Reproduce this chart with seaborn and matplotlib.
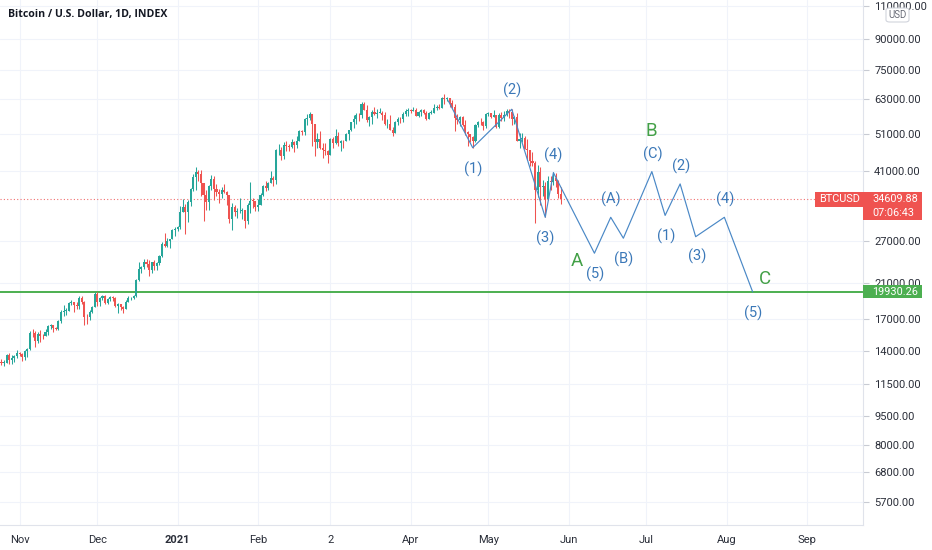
import matplotlib
matplotlib.use("Agg")
import numpy as np
import pandas as pd
import matplotlib.pyplot as plt
import matplotlib.dates as mdates
from matplotlib.patches import Rectangle, FancyBboxPatch
from matplotlib.ticker import NullLocator
import seaborn as sns

# ---------------- data ----------------
title = "Bitcoin / U.S. Dollar, 1D, INDEX"
start_date = "2020-10-24"

opens = [
    12930, 13120, 13040, 13070, 13650, 13280, 13460, 13560,
    13800, 13760, 13550, 14030, 14150, 15590, 15580, 14830, 15480, 15330, 15300, 15700, 16290, 16330, 16070, 15960, 16720, 17660, 17800, 17820, 18680, 18710, 18420, 18370, 19160, 18720, 17150, 17140, 17720, 18180,
    19700, 18790, 19220, 19450, 18700, 19150, 19360, 19170, 18320, 18550, 18250, 18040, 18800, 19170, 19270, 19440, 21370, 22800, 23110, 23870, 23480, 22740, 23820, 23240, 23730, 24710, 26440, 26250, 27040, 27370, 28840,
    28990, 29370, 32130, 33000, 32020, 34000, 36800, 39480, 40670, 40240, 38240, 35540, 34010, 37390, 39150, 36830, 36070, 35820, 36630, 36070, 35550, 30830, 33010, 32100, 32280, 32370, 32570, 30430, 33470, 34320, 34300,
    33110, 33540, 35510, 37470, 36930, 38140, 39270, 38830, 46400, 46480, 44850, 48010, 47510, 47170, 48720, 47940, 49160, 52150, 51680, 55890, 56100, 57530, 54210, 48820, 49700, 47090, 46340, 46190,
    45140, 49630, 48380, 50540, 48560, 48930, 48910, 51210, 52380, 54880, 55860, 57330, 57230, 61190, 59020, 55640, 56470, 58460, 57650, 58030, 58100, 57350, 54100, 54340, 52300, 51300, 55040, 55860, 55780, 57630, 58730,
    58730, 58720, 58960, 57060, 58200, 59130, 57990, 56000, 58090, 58090, 59770, 59960, 59840, 63550, 62970, 63230, 61450, 60090, 56270, 55720, 56500, 53790, 51700, 51190, 50100, 49000, 54020, 55040, 54830, 53560,
    57750, 57830, 56630, 57200, 53330, 57420, 56400, 57360, 58800, 58230, 55860, 56700, 49150, 49720, 49880, 46760, 46430, 43540, 42910, 36700, 40780, 37300, 37530, 34700, 38700, 38400, 39290, 38550, 35680,
]
highs = [
    13160, 13340, 13240, 13770, 13860, 13640, 13680, 14100,
    13900, 13820, 14070, 14250, 15760, 15970, 15770, 15650, 15850, 15460, 15950, 16340, 16480, 16340, 16130, 16890, 17860, 18480, 18140, 18810, 18970, 18740, 18770, 19420, 19490, 18900, 17460, 17870, 18350, 19860,
    19920, 19310, 19590, 19520, 19180, 19420, 19420, 19290, 18630, 18560, 18280, 18950, 19400, 19330, 19560, 21560, 23770, 23280, 24200, 24300, 24100, 23840, 24080, 23800, 24780, 26870, 28370, 27450, 27400, 28990, 29300,
    29600, 33300, 34780, 33600, 34440, 36940, 40200, 41950, 41350, 41350, 38240, 36560, 37780, 40000, 39700, 37860, 36800, 37300, 37850, 36400, 35560, 33820, 33450, 32960, 34880, 32800, 32570, 33800, 38500, 34880, 34300,
    34740, 35980, 37660, 38620, 38300, 40950, 39700, 46700, 48200, 47300, 48600, 48950, 48140, 49700, 49000, 50500, 52500, 52500, 56300, 57500, 58350, 57530, 54210, 51350, 52000, 48330, 48360, 46600,
    49800, 50200, 52600, 51800, 49430, 49200, 51400, 52400, 54900, 57400, 58100, 58000, 61800, 61700, 60600, 56900, 58900, 60000, 59500, 59850, 58600, 58400, 55800, 57200, 53200, 55100, 56600, 56500, 58400, 59300, 59800,
    59500, 60000, 59800, 58500, 59250, 59500, 58700, 58200, 58900, 61300, 60700, 61200, 63800, 64850, 63800, 63500, 62500, 61200, 57500, 57000, 56800, 55500, 52100, 51200, 50500, 54300, 55400, 56400, 55200, 57900,
    58400, 57900, 58900, 57200, 57900, 58300, 58600, 59400, 59200, 59500, 56800, 57900, 51300, 51400, 50600, 49600, 46500, 45800, 43400, 42500, 42100, 38800, 38300, 39900, 39800, 40800, 40400, 38800, 37300,
]
lows = [
    12890, 12920, 12800, 13060, 12950, 12990, 13140, 13440,
    13620, 13220, 13300, 13530, 14100, 15190, 14350, 14720, 14800, 15070, 15280, 15450, 15960, 15710, 15880, 15870, 16560, 17220, 17340, 17760, 18380, 17700, 18000, 18030, 18580, 16330, 16460, 16880, 17550, 18180,
    18330, 18360, 18940, 18580, 18550, 18880, 18900, 18220, 17620, 17920, 17580, 18020, 18720, 19000, 19070, 19300, 21240, 22350, 22790, 23080, 21900, 22370, 22700, 22720, 23430, 24520, 25980, 26110, 25900, 27350, 27880,
    28700, 28950, 32020, 28130, 30270, 33350, 36320, 36600, 38720, 35250, 30420, 32550, 32400, 36700, 34400, 35380, 33850, 34880, 35900, 33420, 30070, 28850, 31410, 30900, 31950, 30850, 29240, 29880, 31980, 32900, 32310,
    32300, 33420, 35380, 36320, 36600, 38140, 37400, 37990, 45000, 43780, 43980, 46300, 46200, 47050, 45950, 47100, 48960, 50900, 50800, 54000, 55500, 47600, 44900, 47000, 46800, 44250, 45100, 43000,
    45000, 47100, 48150, 47500, 46300, 47100, 48900, 49300, 51900, 53100, 54300, 55100, 56200, 59000, 55000, 53500, 54200, 57100, 56300, 57900, 55600, 53800, 53000, 52300, 50400, 51300, 53900, 54700, 54900, 57000, 56900,
    57900, 58500, 56900, 56500, 56800, 57700, 55500, 55900, 57700, 57900, 59000, 59400, 59800, 61300, 62100, 60000, 59700, 52000, 54200, 53500, 53700, 50700, 47600, 48800, 47000, 48800, 53300, 53900, 52400, 53100,
    57050, 56100, 56500, 53100, 52900, 55300, 55400, 56900, 56300, 54000, 54400, 49000, 46900, 48800, 46700, 43900, 42200, 42300, 30000, 35000, 33500, 35300, 31100, 34400, 36500, 37800, 37200, 34800, 33700,
]
closes = [
    13120, 13040, 13070, 13650, 13280, 13460, 13560, 13800,
    13760, 13550, 14030, 14150, 15590, 15580, 14830, 15480, 15330, 15300, 15700, 16290, 16330, 16070, 15960, 16720, 17660, 17800, 17820, 18680, 18710, 18420, 18370, 19160, 18720, 17150, 17140, 17720, 18180, 19700,
    18790, 19220, 19450, 18700, 19150, 19360, 19170, 18320, 18550, 18250, 18040, 18800, 19170, 19270, 19440, 21370, 22800, 23110, 23870, 23480, 22740, 23820, 23240, 23730, 24710, 26440, 26250, 27040, 27370, 28840, 28990,
    29370, 32130, 33000, 32020, 34000, 36800, 39480, 40670, 40240, 38240, 35540, 34010, 37390, 39150, 36830, 36070, 35820, 36630, 36070, 35550, 30830, 33010, 32100, 32280, 32370, 32570, 30430, 33470, 34320, 34300, 33110,
    33540, 35510, 37470, 36930, 38140, 39270, 38830, 46400, 46480, 44850, 48010, 47510, 47170, 48720, 47940, 49160, 52150, 51680, 55890, 56100, 57530, 54210, 48820, 49700, 47090, 46340, 46190, 45140,
    49630, 48380, 50540, 48560, 48930, 48910, 51210, 52380, 54880, 55860, 57330, 57230, 61190, 59020, 55640, 56470, 58460, 57650, 58030, 58100, 57350, 54100, 54340, 52300, 51300, 55040, 55860, 55780, 57630, 58730, 58730,
    58720, 58960, 57060, 58200, 59130, 57990, 56000, 58090, 58090, 59770, 59960, 59840, 63550, 62970, 63230, 61450, 60090, 56270, 55720, 56500, 53790, 51700, 51190, 50100, 49000, 54020, 55040, 54830, 53560, 57750,
    57830, 56630, 57200, 53330, 57420, 56400, 57360, 58800, 58230, 55860, 56700, 49150, 49720, 49880, 46760, 46430, 43540, 42910, 36700, 40780, 37300, 37530, 34700, 38700, 38400, 39290, 38550, 35680, 34609.88,
]

symbol = "BTCUSD"
last_price = 34609.88
last_time = "07:06:43"
support_level = 19930.26

# Elliott-wave projection path
wave_dates = ["2021-04-15 12:00", "2021-04-24 22:00", "2021-05-10 00:00", "2021-05-22 22:00",
              "2021-05-26 02:00", "2021-06-10 22:00", "2021-06-17 05:00", "2021-06-22 02:00",
              "2021-07-03 02:00", "2021-07-08 05:00", "2021-07-14 00:00", "2021-07-20 00:00",
              "2021-07-31 02:00", "2021-08-11 00:00"]
wave_prices = [62300, 47100, 59250, 31100, 40600, 25100, 31100, 27450,
               40850, 31450, 37950, 27700, 31100, 19930]

label_texts = ["(1)", "(2)", "(3)", "(4)", "A", "(5)", "(A)", "(B)", "B", "(C)",
               "(1)", "(2)", "(3)", "(4)", "C", "(5)"]
label_dates = ["2021-04-24 22:00", "2021-05-10 05:00", "2021-05-23 02:00", "2021-05-26 02:00",
               "2021-06-04 02:00", "2021-06-11 05:00", "2021-06-17 05:00", "2021-06-22 02:00",
               "2021-07-02 19:00", "2021-07-03 07:00", "2021-07-08 14:00", "2021-07-14 07:00",
               "2021-07-20 10:00", "2021-07-31 10:00", "2021-08-15 19:00", "2021-08-11 07:00"]
label_prices = [41490, 66200, 27440, 45110, 24010, 22130, 34630, 24210,
                52140, 45290, 27820, 42240, 24580, 34630, 21480, 17540]

y_ticks = [5700, 6800, 8000, 9500, 11500, 14000, 17000, 21000, 27000,
           41000, 51000, 63000, 75000, 90000, 110000]
month_ticks = ["2020-11-01", "2020-12-01", "2021-01-01", "2021-02-01", "2021-03-01",
               "2021-04-01", "2021-05-01", "2021-06-01", "2021-07-01", "2021-08-01", "2021-09-01"]
month_labels = ["Nov", "Dec", "2021", "Feb", "2", "Apr", "May", "Jun", "Jul", "Aug", "Sep"]

# ---------------- style ----------------
sns.set_style("white")
plt.rcParams["font.family"] = ["Roboto", "DejaVu Sans"]

UP, DN = "#26a69a", "#ef5350"
GREEN = "#4caf50"
WAVE = "#4a88c6"
TXT = "#2a2e39"

W, H = 932, 550
fig = plt.figure(figsize=(W / 100, H / 100), dpi=100)
fig.patch.set_facecolor("white")
ax = fig.add_axes([0, 25 / H, 863 / W, 525 / H])

# ---------------- candles ----------------
dates = pd.date_range(start_date, periods=len(closes), freq="D")
xd = mdates.date2num(dates)
o = np.array(opens, float)
h = np.array(highs, float)
l = np.array(lows, float)
c = np.array(closes, float)
cols = np.where(c >= o, UP, DN)
ax.vlines(xd, l, h, colors=cols, linewidth=0.75, zorder=3)
body_bottom = np.minimum(o, c)
body_h = np.maximum(np.abs(c - o), body_bottom * 0.003)
ax.bar(xd, body_h, bottom=body_bottom, width=0.8, color=cols, linewidth=0, zorder=4)

# ---------------- lines ----------------
ax.axhline(support_level, color=GREEN, linewidth=1.4, zorder=2)
ax.axhline(last_price, xmin=0, xmax=815 / 863, color="#f07070", linewidth=0.8,
           linestyle=(0, (1, 2)), zorder=2)

wave_df = pd.DataFrame({"x": mdates.date2num(pd.to_datetime(wave_dates)), "price": wave_prices})
sns.lineplot(data=wave_df, x="x", y="price", sort=False, estimator=None, ax=ax,
             color=WAVE, linewidth=0.85, zorder=5)

for t, d, p in zip(label_texts, label_dates, label_prices):
    green = t in ("A", "B", "C")
    ax.text(mdates.date2num(pd.Timestamp(d)), p, t, ha="center", va="center",
            fontsize=13.5 if green else 10.5, color="#43a047" if green else "#3b78b8", zorder=6)

# ---------------- axes ----------------
ax.set_yscale("log")
x_nov1 = mdates.date2num(pd.Timestamp("2020-11-01"))
ax.set_xlim(x_nov1 - 7.57, x_nov1 + 325.6)
ax.set_ylim(4960, 113700)
ax.set_xlabel("")
ax.set_ylabel("")

ax.yaxis.tick_right()
ax.set_yticks(y_ticks)
ax.set_yticklabels([f"{v:.2f}" for v in y_ticks])
ax.yaxis.set_minor_locator(NullLocator())
ax.set_xticks(mdates.date2num(pd.to_datetime(month_ticks)))
ax.set_xticklabels(month_labels)
for lbl in ax.get_xticklabels():
    if lbl.get_text() == "2021":
        lbl.set_fontweight("bold")

ax.grid(True, color="#f0f3fa", linewidth=0.8)
ax.set_axisbelow(True)
for s in ("top", "left"):
    ax.spines[s].set_visible(False)
for s in ("right", "bottom"):
    ax.spines[s].set_color("#e0e3eb")
    ax.spines[s].set_linewidth(0.8)
ax.tick_params(axis="both", which="major", length=4, width=0.8, color="#c8cbd3",
               labelsize=8, labelcolor=TXT)
ax.tick_params(axis="y", pad=4)
ax.tick_params(axis="x", pad=3)


# ---------------- price labels ----------------
def ypx(price):
    return H - ax.transData.transform((ax.get_xlim()[0], price))[1]


def box(x0, y0, x1, y1, color):
    fig.add_artist(Rectangle((x0 / W, 1 - y1 / H), (x1 - x0) / W, (y1 - y0) / H,
                             transform=fig.transFigure, facecolor=color,
                             edgecolor="none", zorder=10))


def ftext(x, y, s, **kw):
    kw.setdefault("zorder", 11)
    fig.text(x / W, 1 - y / H, s, va="center", **kw)


py = ypx(last_price)
box(815, py - 7.5, 922, py + 7.5, DN)
box(863, py + 7.5, 922, py + 21, DN)
ftext(819, py, symbol, color="white", fontsize=7.8)
ftext(872, py, f"{last_price:.2f}", color="white", fontsize=7.8)
ftext(872, py + 14, last_time, color="white", fontsize=7.8)

gy = ypx(support_level)
box(863, gy - 6.5, 922, gy + 6.5, GREEN)
ftext(872, gy, f"{support_level:.2f}", color="white", fontsize=7.8)

fig.add_artist(FancyBboxPatch((886 / W, 1 - 22 / H), 23 / W, 14 / H,
                              boxstyle="round,pad=0,rounding_size=0.004",
                              transform=fig.transFigure, facecolor="white",
                              edgecolor="#d1d4dc", linewidth=0.8, zorder=10))
ftext(897.5, 14.5, "USD", color="#6a6d78", fontsize=7, ha="center")

ftext(8, 15, title, color="#131722", fontsize=7.6, fontweight="bold",
      family=["Open Sans", "DejaVu Sans"])

fig.savefig("out.png", dpi=100, facecolor="white")
